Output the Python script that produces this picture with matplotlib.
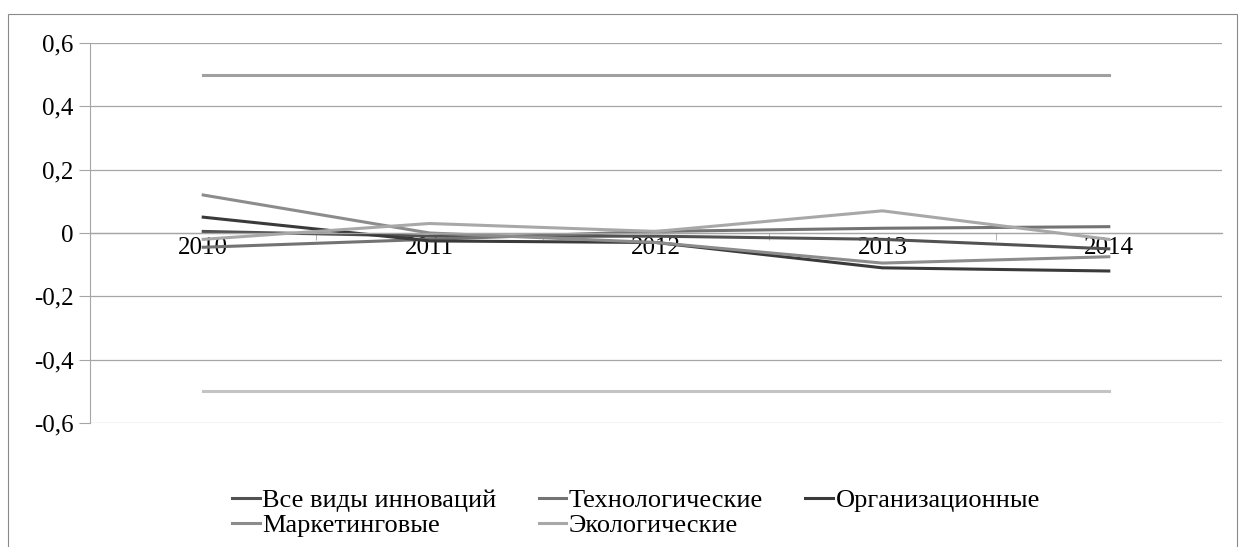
import matplotlib.pyplot as plt
from matplotlib.patches import Rectangle
from matplotlib.ticker import FixedLocator, FuncFormatter

plt.rcParams['font.family'] = 'serif'
plt.rcParams['font.serif'] = ['Liberation Serif', 'DejaVu Serif']

years = ['2010', '2011', '2012', '2013', '2014']
labels = ['Все виды инноваций', 'Технологические', 'Организационные',
          'Маркетинговые', 'Экологические']
all_types = [0.005, -0.01, -0.01, -0.02, -0.05]
tech = [-0.045, -0.02, 0.005, 0.015, 0.02]
org = [0.05, -0.025, -0.03, -0.11, -0.12]
marketing = [0.12, 0.0, -0.03, -0.095, -0.075]
eco = [-0.02, 0.03, 0.005, 0.07, -0.02]
upper = [0.5, 0.5, 0.5, 0.5, 0.5]
lower = [-0.5, -0.5, -0.5, -0.5, -0.5]

series = [all_types, tech, org, marketing, eco]
colors = ['#525252', '#737373', '#3a3a3a', '#8c8c8c', '#a8a8a8']

fig = plt.figure(figsize=(12.46, 5.47), dpi=100)
fig.patches.append(Rectangle((8 / 1246, -0.05), (1237 - 8) / 1246, 1.05 - 14 / 547,
                             transform=fig.transFigure, fill=False,
                             edgecolor='#8a8a8a', lw=0.8))
ax = fig.add_axes([90 / 1246, 1 - 423 / 547, (1222 - 90) / 1246, (423 - 43) / 547])

x = list(range(len(years)))
ax.plot(x, upper, color='#a0a0a0', lw=2.2)
ax.plot(x, lower, color='#c4c4c4', lw=2.2)
handles = []
for vals, lab, c in zip(series, labels, colors):
    h, = ax.plot(x, vals, color=c, lw=2.2, label=lab)
    handles.append(h)

ax.set_xlim(-0.5, 4.5)
ax.set_ylim(-0.6, 0.6)
ax.set_yticks([-0.6, -0.4, -0.2, 0, 0.2, 0.4, 0.6])
ax.yaxis.set_major_formatter(FuncFormatter(
    lambda v, p: '0' if abs(v) < 1e-9 else ('%.1f' % v).replace('.', ',')))
ax.grid(axis='y', color='#a6a6a6', lw=0.9)
ax.set_axisbelow(True)

for s in ['top', 'right']:
    ax.spines[s].set_visible(False)
ax.spines['left'].set_color('#a6a6a6')
ax.spines['bottom'].set_position(('data', 0))
ax.spines['bottom'].set_color('#a6a6a6')
ax.spines['bottom'].set_linewidth(0.9)

ax.set_xticks(x)
ax.set_xticklabels(years)
ax.xaxis.set_minor_locator(FixedLocator([0.5, 1.5, 2.5, 3.5]))
ax.tick_params(axis='x', which='major', length=0, pad=3, labelsize=18)
ax.tick_params(axis='x', which='minor', length=5, color='#a6a6a6', direction='out')
ax.tick_params(axis='y', length=8, color='#a6a6a6', labelsize=18, pad=4)

# row-wise legend order, as in the source chart
order = [0, 3, 1, 4, 2]
fig.legend([handles[i] for i in order], [labels[i] for i in order],
           loc='center', bbox_to_anchor=(636 / 1246, 1 - 513 / 547), ncol=3,
           frameon=False, fontsize=19, handlelength=1.05, handletextpad=0.1,
           columnspacing=1.6, labelspacing=0.05, borderpad=0)

fig.savefig('out.png', dpi=100)
